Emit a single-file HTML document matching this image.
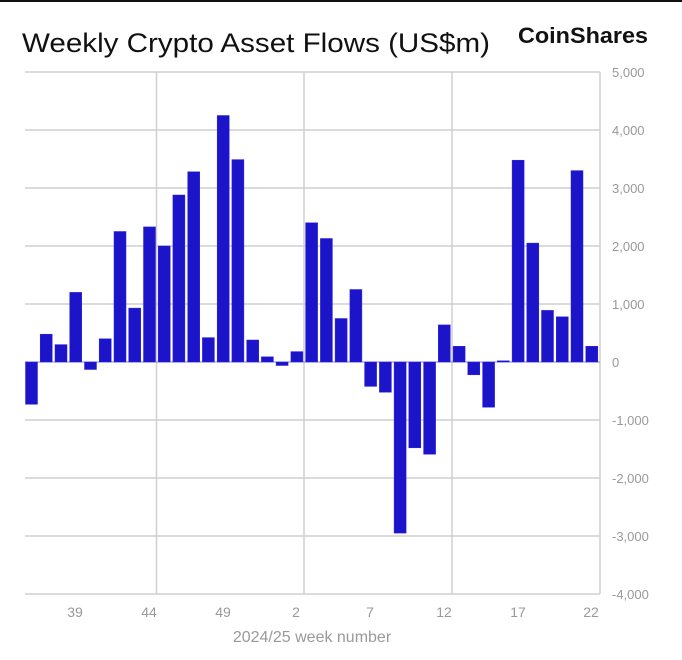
<!DOCTYPE html>
<html><head><meta charset="utf-8"><style>
html,body{margin:0;padding:0;background:#fff}
svg{display:block}
</style></head><body>
<svg width="682" height="660" xmlns="http://www.w3.org/2000/svg" font-family="Liberation Sans, sans-serif">
<rect width="682" height="660" fill="#fff"/>
<rect x="0" y="0" width="682" height="2" fill="#111"/>
<text x="22" y="52" font-size="27" fill="#111" textLength="468" lengthAdjust="spacingAndGlyphs">Weekly Crypto Asset Flows (US$m)</text>
<text x="518" y="43" font-size="22" font-weight="bold" fill="#111" textLength="130" lengthAdjust="spacingAndGlyphs">CoinShares</text>
<g stroke="#cfcfcf" stroke-width="1.5">
<line x1="25" y1="72" x2="600" y2="72"/><line x1="25" y1="130" x2="600" y2="130"/>
<line x1="25" y1="188" x2="600" y2="188"/><line x1="25" y1="246" x2="600" y2="246"/>
<line x1="25" y1="304" x2="600" y2="304"/><line x1="25" y1="420" x2="600" y2="420"/>
<line x1="25" y1="478" x2="600" y2="478"/><line x1="25" y1="536" x2="600" y2="536"/>
<line x1="25" y1="594" x2="600" y2="594"/>
<line x1="156.5" y1="72" x2="156.5" y2="594"/><line x1="304" y1="72" x2="304" y2="594"/>
<line x1="452" y1="72" x2="452" y2="594"/><line x1="600" y1="72" x2="600" y2="594"/>
</g>
<line x1="25" y1="362" x2="600" y2="362" stroke="#8a86e6" stroke-width="1"/>
<g fill="#1c14c8" stroke="#2a22e0" stroke-width="0.5">
<rect x="25.5" y="362" width="12" height="42.3"/>
<rect x="40.2" y="334.2" width="12" height="27.8"/>
<rect x="55.0" y="344.6" width="12" height="17.4"/>
<rect x="69.7" y="292.4" width="12" height="69.6"/>
<rect x="84.5" y="362" width="12" height="7.5"/>
<rect x="99.2" y="338.8" width="12" height="23.2"/>
<rect x="114.0" y="231.5" width="12" height="130.5"/>
<rect x="128.7" y="308.1" width="12" height="53.9"/>
<rect x="143.5" y="226.9" width="12" height="135.1"/>
<rect x="158.2" y="246" width="12" height="116"/>
<rect x="172.9" y="195" width="12" height="167"/>
<rect x="187.7" y="171.8" width="12" height="190.2"/>
<rect x="202.4" y="337.6" width="12" height="24.4"/>
<rect x="217.2" y="115.5" width="12" height="246.5"/>
<rect x="231.9" y="159.6" width="12" height="202.4"/>
<rect x="246.7" y="340" width="12" height="22"/>
<rect x="261.4" y="356.8" width="12" height="5.2"/>
<rect x="276.1" y="362" width="12" height="3.5"/>
<rect x="290.9" y="351.6" width="12" height="10.4"/>
<rect x="305.6" y="222.8" width="12" height="139.2"/>
<rect x="320.4" y="238.5" width="12" height="123.5"/>
<rect x="335.1" y="318.5" width="12" height="43.5"/>
<rect x="349.9" y="289.5" width="12" height="72.5"/>
<rect x="364.6" y="362" width="12" height="24.4"/>
<rect x="379.4" y="362" width="12" height="30.2"/>
<rect x="394.1" y="362" width="12" height="171.1"/>
<rect x="408.8" y="362" width="12" height="85.8"/>
<rect x="423.6" y="362" width="12" height="92.2"/>
<rect x="438.3" y="324.9" width="12" height="37.1"/>
<rect x="453.1" y="346.3" width="12" height="15.7"/>
<rect x="467.8" y="362" width="12" height="12.8"/>
<rect x="482.6" y="362" width="12" height="45.2"/>
<rect x="497.3" y="360.8" width="12" height="1.2"/>
<rect x="512.1" y="160.2" width="12" height="201.8"/>
<rect x="526.8" y="243.1" width="12" height="118.9"/>
<rect x="541.5" y="310.4" width="12" height="51.6"/>
<rect x="556.3" y="316.8" width="12" height="45.2"/>
<rect x="571.0" y="170.6" width="12" height="191.4"/>
<rect x="585.8" y="346.3" width="12" height="15.7"/>
</g>
<g font-size="13" fill="#999">
<text x="612" y="77">5,000</text><text x="612" y="135">4,000</text><text x="612" y="193">3,000</text>
<text x="612" y="251">2,000</text><text x="612" y="309">1,000</text><text x="612" y="367">0</text>
<text x="612" y="425">-1,000</text><text x="612" y="483">-2,000</text><text x="612" y="541">-3,000</text>
<text x="612" y="599">-4,000</text>
</g>
<g font-size="14" fill="#999" text-anchor="middle">
<text x="75" y="617">39</text><text x="149" y="617">44</text><text x="223" y="617">49</text>
<text x="296" y="617">2</text><text x="370" y="617">7</text><text x="444" y="617">12</text>
<text x="518" y="617">17</text><text x="591" y="617">22</text>
<text x="312" y="642" font-size="16">2024/25 week number</text>
</g>
</svg>
</body></html>
